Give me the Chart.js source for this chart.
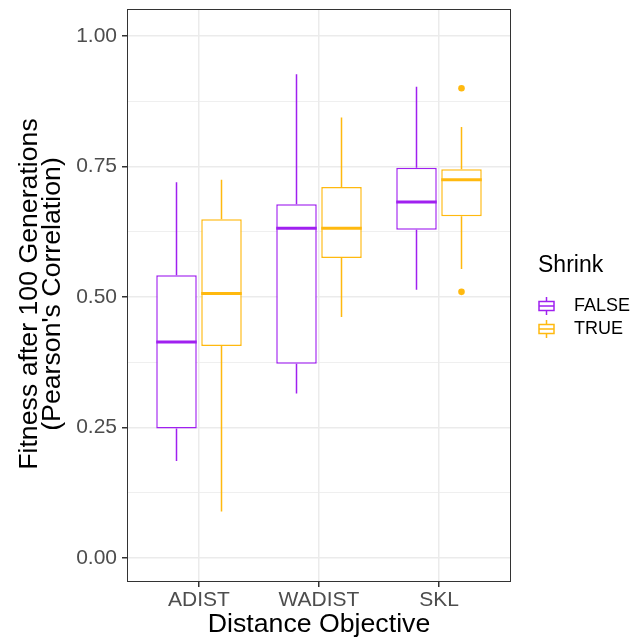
<!DOCTYPE html>
<html>
<head>
<meta charset="utf-8">
<script src="https://cdn.jsdelivr.net/npm/chart.js@4/dist/chart.umd.min.js"></script>
<style>
  html, body { margin: 0; padding: 0; background: #fff; }
  canvas { display: block; }
</style>
</head>
<body>
<canvas id="myChart" width="643" height="643"></canvas>
<script>
// data
const categories = ['ADIST', 'WADIST', 'SKL'];
const groups = ['FALSE', 'TRUE'];

const falseMin    = [0.186, 0.315, 0.514];
const falseQ1     = [0.248, 0.372, 0.629];
const falseMedian = [0.414, 0.632, 0.682];
const falseQ3     = [0.542, 0.678, 0.748];
const falseMax    = [0.720, 0.927, 0.903];
const falseOutliers = [[], [], []];

const trueMin    = [0.089, 0.462, 0.554];
const trueQ1     = [0.406, 0.575, 0.655];
const trueMedian = [0.507, 0.632, 0.725];
const trueQ3     = [0.649, 0.711, 0.745];
const trueMax    = [0.725, 0.844, 0.826];
const trueOutliers = [[], [], [0.900, 0.510]];

const yTicks = [0, 0.25, 0.5, 0.75, 1];

const purple = '#A020F0';
const orange = '#FFB90F';
const fontFam = '"Liberation Sans", Arial, Helvetica, sans-serif';

const series = [
  { name: groups[0], color: purple, min: falseMin, q1: falseQ1, med: falseMedian, q3: falseQ3, max: falseMax, out: falseOutliers },
  { name: groups[1], color: orange, min: trueMin, q1: trueQ1, med: trueMedian, q3: trueQ3, max: trueMax, out: trueOutliers }
];

// minor grid lines halfway between the labelled ticks
const yGrid = [];
yTicks.forEach((v, i) => {
  yGrid.push(v);
  if (i < yTicks.length - 1) yGrid.push((v + yTicks[i + 1]) / 2);
});

function isMajor(v) {
  return yTicks.some(t => Math.abs(t - v) < 1e-9);
}

const boxParts = {
  id: 'boxParts',
  beforeDatasetsDraw(chart) {
    const ctx = chart.ctx, y = chart.scales.y;
    series.forEach((s, i) => {
      chart.getDatasetMeta(i).data.forEach((bar, j) => {
        ctx.save();
        ctx.strokeStyle = s.color;
        ctx.lineWidth = 1.5;
        ctx.beginPath();
        ctx.moveTo(bar.x, y.getPixelForValue(s.max[j]));
        ctx.lineTo(bar.x, y.getPixelForValue(s.q3[j]));
        ctx.moveTo(bar.x, y.getPixelForValue(s.q1[j]));
        ctx.lineTo(bar.x, y.getPixelForValue(s.min[j]));
        ctx.stroke();
        ctx.restore();
      });
    });
  },
  afterDatasetsDraw(chart) {
    const ctx = chart.ctx, y = chart.scales.y;
    series.forEach((s, i) => {
      chart.getDatasetMeta(i).data.forEach((bar, j) => {
        ctx.save();
        ctx.strokeStyle = s.color;
        ctx.lineWidth = 3;
        const my = y.getPixelForValue(s.med[j]);
        ctx.beginPath();
        ctx.moveTo(bar.x - bar.width / 2, my);
        ctx.lineTo(bar.x + bar.width / 2, my);
        ctx.stroke();
        ctx.fillStyle = s.color;
        s.out[j].forEach(v => {
          ctx.beginPath();
          ctx.arc(bar.x, y.getPixelForValue(v), 3.3, 0, Math.PI * 2);
          ctx.fill();
        });
        ctx.restore();
      });
    });
  },
  afterDraw(chart) {
    const ctx = chart.ctx, a = chart.chartArea;
    ctx.save();
    // panel border
    ctx.strokeStyle = '#333333';
    ctx.lineWidth = 1;
    ctx.strokeRect(a.left + 0.5, a.top + 0.5, a.right - a.left - 1, a.bottom - a.top - 1);

    // axis titles
    ctx.fillStyle = '#000';
    ctx.font = '26.7px ' + fontFam;
    ctx.textAlign = 'center';
    ctx.textBaseline = 'middle';
    ctx.fillText('Distance Objective', (a.left + a.right) / 2, 625);
    ctx.save();
    ctx.translate(30, 294);
    ctx.rotate(-Math.PI / 2);
    ctx.fillText('Fitness after 100 Generations', 0, 0);
    ctx.fillText("(Pearson's Correlation)", 0, 23);
    ctx.restore();

    // legend
    ctx.textAlign = 'left';
    ctx.font = '23px ' + fontFam;
    ctx.fillText('Shrink', 538, 266);
    ctx.font = '18px ' + fontFam;
    const rows = [306, 329];
    series.forEach((s, i) => {
      const cy = rows[i], cx = 546.5;
      ctx.strokeStyle = s.color;
      ctx.lineWidth = 1.5;
      ctx.beginPath();
      ctx.moveTo(cx, cy - 9); ctx.lineTo(cx, cy - 4.5);
      ctx.moveTo(cx, cy + 4.5); ctx.lineTo(cx, cy + 9);
      ctx.stroke();
      ctx.strokeRect(cx - 7.5, cy - 4.5, 15, 9);
      ctx.beginPath();
      ctx.moveTo(cx - 7.5, cy); ctx.lineTo(cx + 7.5, cy);
      ctx.stroke();
      ctx.fillStyle = '#000';
      ctx.fillText(s.name, 574, cy);
    });
    ctx.restore();
  }
};

const ctx = document.getElementById('myChart');

new Chart(ctx, {
  type: 'bar',
  data: {
    datasets: series.map(s => ({
      label: s.name,
      data: s.q1.map((q, j) => ({ x: j + 1, y: [q, s.q3[j]] })),
      backgroundColor: '#ffffff',
      borderColor: s.color,
      borderWidth: 1.5,
      borderSkipped: false,
      categoryPercentage: 0.75,
      barPercentage: 0.9
    }))
  },
  options: {
    responsive: false,
    animation: false,
    layout: { padding: { left: 0, top: 9, right: 132, bottom: 0 } },
    plugins: {
      legend: { display: false },
      tooltip: { enabled: false }
    },
    scales: {
      x: {
        type: 'linear',
        offset: false,
        min: 0.4,
        max: categories.length + 0.6,
        afterBuildTicks: s => { s.ticks = categories.map((c, i) => ({ value: i + 1 })); },
        afterFit: s => { s.height = 61; s.paddingLeft = 0; s.paddingRight = 0; },
        grid: { offset: false, color: '#EBEBEB', lineWidth: 1.5, tickColor: '#333333', tickLength: 5 },
        border: { display: false },
        ticks: {
          padding: 1,
          maxRotation: 0,
          autoSkip: false,
          color: '#4D4D4D',
          font: { family: fontFam, size: 21 },
          callback: v => categories[v - 1]
        }
      },
      y: {
        min: -0.046,
        max: 1.052,
        afterBuildTicks: s => { s.ticks = yGrid.map(v => ({ value: v })); },
        afterFit: s => { s.width = 127; s.paddingTop = 0; s.paddingBottom = 0; },
        grid: {
          color: '#EBEBEB',
          lineWidth: c => isMajor(c.tick.value) ? 1.5 : 0.8,
          tickColor: c => isMajor(c.tick.value) ? '#333333' : 'rgba(0,0,0,0)',
          tickLength: 5
        },
        border: { display: false },
        ticks: {
          padding: 5,
          autoSkip: false,
          color: '#4D4D4D',
          font: { family: fontFam, size: 21 },
          callback: v => isMajor(v) ? v.toFixed(2) : ''
        }
      }
    }
  },
  plugins: [boxParts]
});
</script>
</body>
</html>
